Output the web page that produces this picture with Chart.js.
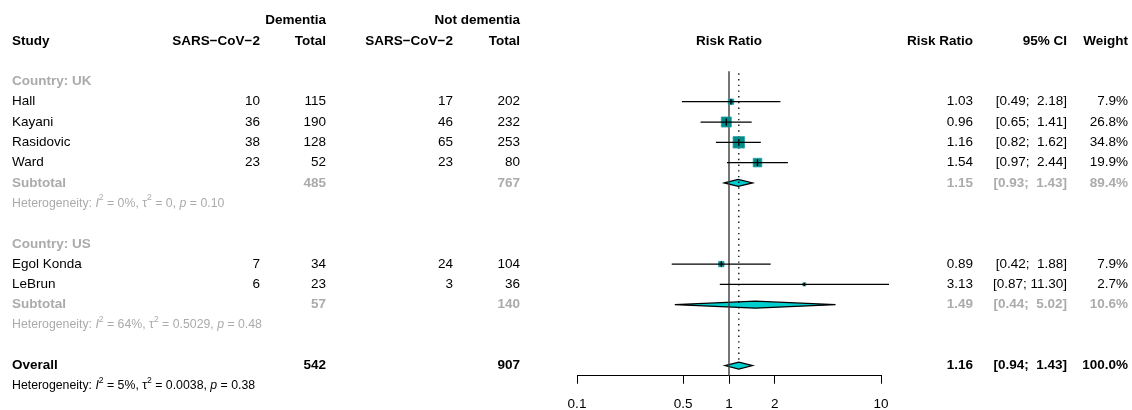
<!DOCTYPE html>
<html>
<head>
<meta charset="utf-8">
<script src="https://cdn.jsdelivr.net/npm/chart.js@4.4.1/dist/chart.umd.min.js"></script>
<style>
  html, body { margin: 0; padding: 0; background: #fff; }
  #wrap { width: 1132px; height: 410px; position: relative; }
</style>
</head>
<body>
<div id="wrap"><canvas id="forest"></canvas></div>
<script>
// ---- study-level data ----
const groups     = ['Country: UK', 'Country: US'];
const groupOf    = [0, 0, 0, 0, 1, 1];
const studies    = ['Hall', 'Kayani', 'Rasidovic', 'Ward', 'Egol Konda', 'LeBrun'];
const eventsDem  = [10, 36, 38, 23, 7, 6];
const totalDem   = [115, 190, 128, 52, 34, 23];
const eventsNot  = [17, 46, 65, 23, 24, 3];
const totalNot   = [202, 232, 253, 80, 104, 36];
const rr         = [1.03, 0.96, 1.16, 1.54, 0.89, 3.13];
const lower      = [0.49, 0.65, 0.82, 0.97, 0.42, 0.87];
const upper      = [2.18, 1.41, 1.62, 2.44, 1.88, 11.30];
const weight     = [7.9, 26.8, 34.8, 19.9, 7.9, 2.7];

// ---- pooled results per subgroup ----
const subTotalDem = [485, 57];
const subTotalNot = [767, 140];
const subRR       = [1.15, 1.49];
const subLower    = [0.93, 0.44];
const subUpper    = [1.43, 5.02];
const subWeight   = [89.4, 10.6];
const subI2       = ['0%', '64%'];
const subTau2     = ['0', '0.5029'];
const subP        = ['0.10', '0.48'];

// ---- overall pooled result ----
const allTotalDem = 542;
const allTotalNot = 907;
const allRR       = 1.16;
const allLower    = 0.94;
const allUpper    = 1.43;
const allWeight   = 100.0;
const allI2       = '5%';
const allTau2     = '0.0038';
const allP        = '0.38';

// ---- x axis ----
const xTicks      = [0.1, 0.5, 1, 2, 10];
const xTickLabels = ['0.1', '0.5', '1', '2', '10'];

// ---- row layout (one row per line of the table) ----
const studyRow = [], groupRow = [], subRow = [], hetRow = [];
let r = -1;
groups.forEach((g, gi) => {
  groupRow[gi] = r++;
  studies.forEach((s, i) => { if (groupOf[i] === gi) studyRow[i] = r++; });
  subRow[gi] = r++;
  hetRow[gi] = r++;
  r++;
});
const overallRow = r;
const overallHetRow = r + 1;
const ROW_MIN = -1.5, ROW_MAX = overallRow + 0.5;

const FONT = '"Liberation Sans", Arial, Helvetica, sans-serif';
const MAIN = 13.5, SMALL = 12.3;
const GREY = '#ababab';
const SQUARE_FILL = '#008b8b';
const DIAMOND_FILL = '#00cdcd';

const squareSide = w => 1.95 * Math.sqrt(w);

const fmt2 = v => v.toFixed(2);
const fmtCI = (lo, hi) => '[' + fmt2(lo) + '; ' + fmt2(hi).padStart(5, ' ') + ']';
const fmtW = w => w.toFixed(1) + '%';

// ---- datasets ----
const datasets = [];

// vertical tick at each point estimate
datasets.push({
  type: 'scatter',
  data: rr.map((v, i) => ({ x: v, y: studyRow[i] })),
  pointStyle: 'line',
  rotation: 90,
  pointRadius: ctx => Math.min(squareSide(weight[ctx.dataIndex]) / 2, 3.4),
  borderColor: '#000',
  borderWidth: 1.3,
  order: 0,
  clip: false
});

// confidence interval lines
studies.forEach((s, i) => {
  datasets.push({
    type: 'line',
    data: [{ x: lower[i], y: studyRow[i] }, { x: upper[i], y: studyRow[i] }],
    borderColor: '#000',
    borderWidth: 1.25,
    pointRadius: 0,
    order: 1,
    clip: false
  });
});

// weighted squares
datasets.push({
  type: 'scatter',
  data: rr.map((v, i) => ({ x: v, y: studyRow[i] })),
  pointStyle: 'rect',
  pointRadius: ctx => squareSide(weight[ctx.dataIndex]) / Math.SQRT2,
  backgroundColor: SQUARE_FILL,
  borderColor: 'rgba(40,160,160,0.9)',
  borderWidth: 0.8,
  order: 2,
  clip: false
});

// line of no effect
datasets.push({
  type: 'line',
  data: [{ x: 1, y: ROW_MIN }, { x: 1, y: ROW_MAX }],
  borderColor: '#3c3c3c',
  borderWidth: 1.4,
  pointRadius: 0,
  order: 5,
  clip: false
});

// overall estimate (dotted)
datasets.push({
  type: 'line',
  data: [{ x: allRR, y: ROW_MIN + 0.1 }, { x: allRR, y: overallRow - 0.16 }],
  borderColor: '#000',
  borderWidth: 1.3,
  borderDash: [1.4, 4.3],
  pointRadius: 0,
  order: 4,
  clip: false
});

// ---- diamonds for pooled estimates ----
const diamondPlugin = {
  id: 'diamonds',
  beforeDatasetsDraw(chart) {
    const { ctx, scales: { x, y } } = chart;
    const draw = (est, lo, hi, row) => {
      const yc = y.getPixelForValue(row);
      const h = 3.5;
      ctx.beginPath();
      ctx.moveTo(x.getPixelForValue(lo), yc);
      ctx.lineTo(x.getPixelForValue(est), yc - h);
      ctx.lineTo(x.getPixelForValue(hi), yc);
      ctx.lineTo(x.getPixelForValue(est), yc + h);
      ctx.closePath();
      ctx.fillStyle = DIAMOND_FILL;
      ctx.fill();
      ctx.strokeStyle = '#000';
      ctx.lineWidth = 1.2;
      ctx.lineJoin = 'miter';
      ctx.stroke();
    };
    ctx.save();
    groups.forEach((g, gi) => draw(subRR[gi], subLower[gi], subUpper[gi], subRow[gi]));
    draw(allRR, allLower, allUpper, overallRow);
    ctx.restore();
  }
};

// ---- table text ----
function drawRich(ctx, parts, x, y, size, color) {
  let cx = x;
  ctx.textAlign = 'left';
  ctx.textBaseline = 'middle';
  ctx.fillStyle = color;
  for (const p of parts) {
    const fs = p.sup ? size * 0.7 : size;
    ctx.font = (p.it ? 'italic ' : '') + fs + 'px ' + FONT;
    ctx.fillText(p.t, cx, p.sup ? y - size * 0.42 : y);
    cx += ctx.measureText(p.t).width;
  }
}
const hetParts = (i2, tau2, p) => [
  { t: 'Heterogeneity: ' }, { t: 'I', it: true }, { t: '2', sup: true },
  { t: ' = ' + i2 + ', ' }, { t: '\u03c4' }, { t: '2', sup: true },
  { t: ' = ' + tau2 + ', ' }, { t: 'p', it: true }, { t: ' = ' + p }
];

const tablePlugin = {
  id: 'table',
  afterDraw(chart) {
    const { ctx, scales: { x, y } } = chart;
    const col = { study: 12, evD: 260, totD: 326, evN: 453, totN: 520, rr: 973, ci: 1067, w: 1128 };
    const plotMid = (x.left + x.right) / 2;
    const text = (t, px, row, align, bold, color, size) => {
      ctx.font = (bold ? 'bold ' : '') + (size || MAIN) + 'px ' + FONT;
      ctx.fillStyle = color || '#000';
      ctx.textAlign = align;
      ctx.textBaseline = 'middle';
      ctx.fillText(t, px, y.getPixelForValue(row));
    };
    ctx.save();
    // headers
    text('Dementia', col.totD, -4, 'right', true);
    text('Not dementia', col.totN, -4, 'right', true);
    text('Study', col.study, -3, 'left', true);
    text('SARS\u2212CoV\u22122', col.evD, -3, 'right', true);
    text('Total', col.totD, -3, 'right', true);
    text('SARS\u2212CoV\u22122', col.evN, -3, 'right', true);
    text('Total', col.totN, -3, 'right', true);
    text('Risk Ratio', plotMid, -3, 'center', true);
    text('Risk Ratio', col.rr, -3, 'right', true);
    text('95% CI', col.ci, -3, 'right', true);
    text('Weight', col.w, -3, 'right', true);

    groups.forEach((g, gi) => {
      text(g, col.study, groupRow[gi], 'left', true, GREY);
      studies.forEach((s, i) => {
        if (groupOf[i] !== gi) return;
        const row = studyRow[i];
        text(s, col.study, row, 'left');
        text(String(eventsDem[i]), col.evD, row, 'right');
        text(String(totalDem[i]), col.totD, row, 'right');
        text(String(eventsNot[i]), col.evN, row, 'right');
        text(String(totalNot[i]), col.totN, row, 'right');
        text(fmt2(rr[i]), col.rr, row, 'right');
        text(fmtCI(lower[i], upper[i]), col.ci, row, 'right');
        text(fmtW(weight[i]), col.w, row, 'right');
      });
      const sr = subRow[gi];
      text('Subtotal', col.study, sr, 'left', true, GREY);
      text(String(subTotalDem[gi]), col.totD, sr, 'right', true, GREY);
      text(String(subTotalNot[gi]), col.totN, sr, 'right', true, GREY);
      text(fmt2(subRR[gi]), col.rr, sr, 'right', true, GREY);
      text(fmtCI(subLower[gi], subUpper[gi]), col.ci, sr, 'right', true, GREY);
      text(fmtW(subWeight[gi]), col.w, sr, 'right', true, GREY);
      drawRich(ctx, hetParts(subI2[gi], subTau2[gi], subP[gi]), col.study,
               y.getPixelForValue(hetRow[gi]), SMALL, GREY);
    });

    text('Overall', col.study, overallRow, 'left', true);
    text(String(allTotalDem), col.totD, overallRow, 'right', true);
    text(String(allTotalNot), col.totN, overallRow, 'right', true);
    text(fmt2(allRR), col.rr, overallRow, 'right', true);
    text(fmtCI(allLower, allUpper), col.ci, overallRow, 'right', true);
    text(fmtW(allWeight), col.w, overallRow, 'right', true);
    drawRich(ctx, hetParts(allI2, allTau2, allP), col.study,
             y.getPixelForValue(overallHetRow), SMALL, '#000');
    ctx.restore();
  }
};

new Chart(document.getElementById('forest'), {
  type: 'scatter',
  data: { datasets },
  options: {
    responsive: true,
    maintainAspectRatio: false,
    animation: false,
    events: [],
    layout: { padding: { left: 577, right: 251, top: 71.25, bottom: 0 } },
    plugins: { legend: { display: false }, tooltip: { enabled: false } },
    scales: {
      x: {
        type: 'logarithmic',
        min: 0.1,
        max: 10,
        afterBuildTicks: s => { s.ticks = xTicks.map(v => ({ value: v })); },
        afterFit: s => { s.height = 34.25; },
        ticks: {
          autoSkip: false,
          maxRotation: 0,
          minRotation: 0,
          padding: 12,
          color: '#000',
          font: { family: FONT, size: MAIN },
          callback: (v, i) => xTickLabels[i]
        },
        grid: { drawOnChartArea: false, drawTicks: true, tickLength: 8, color: '#000', lineWidth: 1 },
        border: { display: true, color: '#000', width: 1 }
      },
      y: {
        type: 'linear',
        reverse: true,
        min: ROW_MIN,
        max: ROW_MAX,
        display: false
      }
    }
  },
  plugins: [diamondPlugin, tablePlugin]
});
</script>
</body>
</html>
